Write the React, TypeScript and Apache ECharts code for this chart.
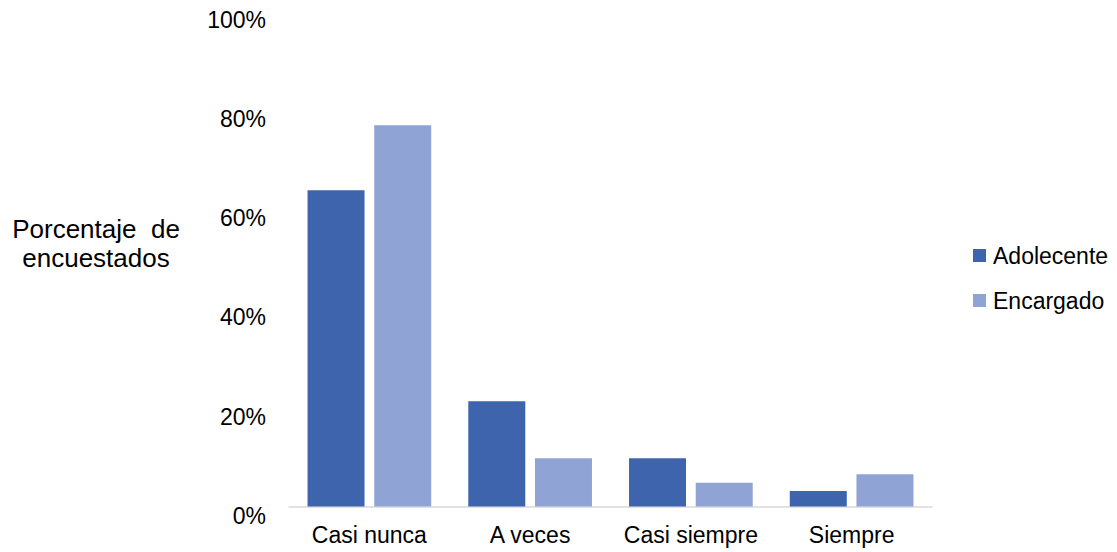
import React, { useEffect, useRef } from "react";
import * as echarts from "echarts";

const categories = ["Casi nunca", "A veces", "Casi siempre", "Siempre"];
const adolecente = [63.7, 21.2, 9.7, 3.1];
const encargado = [76.8, 9.7, 4.8, 6.5];
const seriesNames = ["Adolecente", "Encargado"];
const yAxisTitle = "Porcentaje  de\nencuestados";

const FONT = "'Liberation Sans', Arial, sans-serif";

export default function App() {
  const ref = useRef<HTMLDivElement>(null);
  useEffect(() => {
    if (!ref.current) return;
    const chart = echarts.init(ref.current, undefined, { renderer: "svg" });
    chart.setOption({
      animation: false,
      backgroundColor: "#ffffff",
      textStyle: { fontFamily: FONT },
      grid: { left: 289, right: 185, top: 10, bottom: 45.5, containLabel: false },
      legend: {
        orient: "vertical",
        left: 968,
        top: 239,
        itemWidth: 13,
        itemHeight: 13,
        itemGap: 22,
        icon: "rect",
        data: seriesNames,
        textStyle: { fontSize: 23, color: "#000", fontFamily: FONT, lineHeight: 23, padding: [0, 0, 0, 2] },
      },
      xAxis: {
        type: "category",
        data: categories,
        axisLine: { show: true, lineStyle: { color: "#D9D9D9", width: 1.5 } },
        axisTick: { show: false },
        axisLabel: { interval: 0, fontSize: 23, color: "#000", fontFamily: FONT, margin: 17 },
      },
      yAxis: {
        type: "value",
        min: 0,
        max: 100,
        interval: 20,
        axisLine: { show: false },
        axisTick: { show: false },
        splitLine: { show: false },
        axisLabel: {
          formatter: "{value}%",
          fontSize: 23,
          color: "#000",
          fontFamily: FONT,
          margin: 23,
          verticalAlign: "top",
          lineHeight: 19,
        },
      },
      series: [
        {
          name: seriesNames[0],
          type: "bar",
          data: adolecente,
          barWidth: 57,
          barGap: "17%",
          itemStyle: { color: "#3D64AD" },
        },
        {
          name: seriesNames[1],
          type: "bar",
          data: encargado,
          barWidth: 57,
          barGap: "17%",
          itemStyle: { color: "#8FA4D4" },
        },
      ],
      graphic: [
        {
          type: "text",
          x: 96,
          y: 243,
          style: {
            text: yAxisTitle,
            fontSize: 26,
            fontFamily: FONT,
            fill: "#000",
            align: "center",
            verticalAlign: "middle",
            lineHeight: 29,
          },
        },
      ],
    });
    return () => chart.dispose();
  }, []);
  return (
    <div
      ref={ref}
      style={{ position: "fixed", left: 0, top: 0, width: 1117, height: 552 }}
    />
  );
}
